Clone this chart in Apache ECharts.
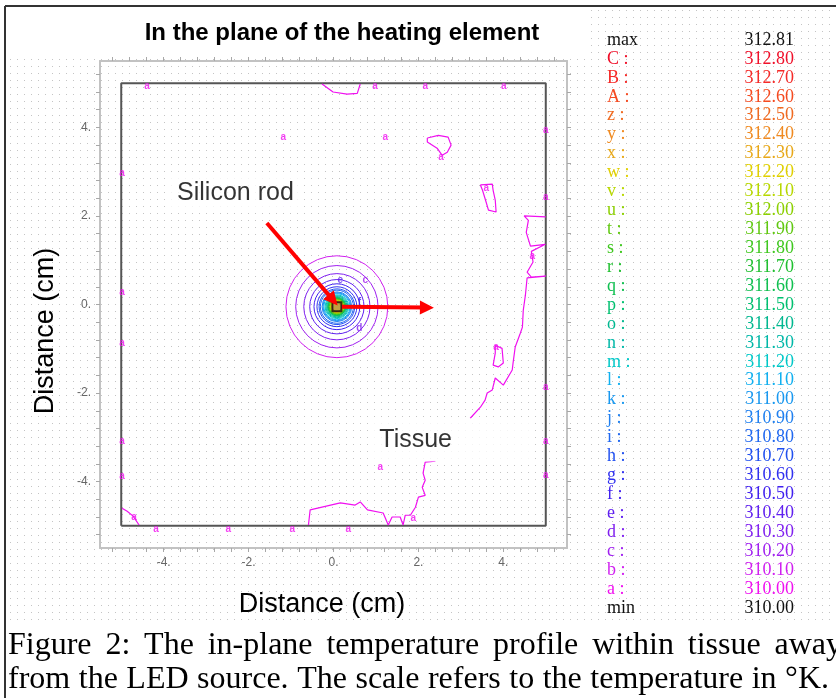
<!DOCTYPE html>
<html>
<head>
<meta charset="utf-8">
<script src="https://cdn.jsdelivr.net/npm/echarts@6/dist/echarts.min.js"></script>
<style>
  html, body { margin: 0; padding: 0; background: #fff; }
  #main { width: 836px; height: 698px; }
</style>
</head>
<body>
<div id="main"></div>
<script>
const chart = echarts.init(document.getElementById('main'))

// temperature scale (K), legend order top to bottom
const levelKeys = ['C', 'B', 'A', 'z', 'y', 'x', 'w', 'v', 'u', 't', 's', 'r', 'q', 'p', 'o', 'n', 'm', 'l', 'k', 'j', 'i', 'h', 'g', 'f', 'e', 'd', 'c', 'b', 'a']
const levelTemps = [312.80, 312.70, 312.60, 312.50, 312.40, 312.30, 312.20, 312.10, 312.00, 311.90, 311.80, 311.70, 311.60, 311.50, 311.40, 311.30, 311.20, 311.10, 311.00, 310.90, 310.80, 310.70, 310.60, 310.50, 310.40, 310.30, 310.20, 310.10, 310.00]
const levelColors = ['#f0102a', '#f52a28', '#f54a20', '#f06a20', '#f08a20', '#e8a818', '#e0d000', '#b8d800', '#8cd000', '#60c810', '#40c820', '#20c030', '#10c050', '#00c070', '#00b890', '#00b8a8', '#00c8c8', '#10b0f0', '#1898f0', '#2080f0', '#2068f0', '#2050f0', '#3030f0', '#4020f0', '#6020f0', '#8020f0', '#a020f0', '#d020f0', '#f010f0']
const tempMax = 312.81
const tempMin = 310.00

// closed contours round the rod (cm), C ... b, same order as levelKeys
const rodCenter = [0.08, -0.05]
const ringRadii = [0.113, 0.118, 0.122, 0.13, 0.137, 0.14, 0.15, 0.158, 0.165, 0.18, 0.19, 0.20, 0.21, 0.22, 0.24, 0.26, 0.28, 0.31, 0.33, 0.35, 0.39, 0.42, 0.47, 0.54, 0.64, 0.78, 0.97, 1.20]

// the 310.00 (a) contour pieces, [x, y] in cm
const contourA = [
  [[-0.27, 4.98], [-0.01, 4.80], [0.32, 4.75], [0.56, 4.77], [0.63, 4.98]],
  [[2.21, 3.76], [2.47, 3.82], [2.70, 3.78], [2.77, 3.60], [2.68, 3.44], [2.56, 3.37], [2.44, 3.53], [2.21, 3.67], [2.21, 3.76]],
  [[3.46, 2.70], [3.74, 2.72], [3.76, 2.58], [3.81, 2.36], [3.83, 2.09], [3.65, 2.13], [3.58, 2.36], [3.51, 2.58], [3.46, 2.70]],
  [[5.00, 1.98], [4.49, 2.00], [4.59, 1.90], [4.54, 1.63], [4.64, 1.32], [4.99, 1.36], [4.66, 1.20], [4.70, 0.96], [4.56, 0.73], [4.66, 0.62], [5.00, 0.64], [4.56, 0.60], [4.52, 0.21], [4.47, -0.13], [4.45, -0.51], [4.40, -0.65], [4.28, -0.96], [4.23, -1.32], [4.21, -1.48], [4.00, -1.82], [3.81, -1.66], [3.74, -1.93], [3.62, -2.00], [3.57, -2.16], [3.46, -2.32], [3.22, -2.57]],
  [[3.81, -0.92], [3.97, -0.99], [4.00, -1.32], [3.88, -1.41], [3.76, -1.37], [3.81, -1.10], [3.81, -0.92]],
  [[2.40, -3.54], [2.16, -3.56], [2.11, -3.81], [2.16, -3.97], [2.09, -4.13], [2.16, -4.31], [2.00, -4.35], [1.93, -4.58], [1.81, -4.76], [1.69, -4.76], [1.64, -4.98], [1.57, -4.80], [1.38, -4.80], [1.29, -4.98], [1.17, -4.71], [0.80, -4.64], [0.63, -4.46], [0.51, -4.53], [0.16, -4.48], [-0.55, -4.64], [-0.59, -4.98]],
  [[-4.98, -4.60], [-4.86, -4.67], [-4.72, -4.78], [-4.58, -4.98]]
]

// contour letters [x, y, key]
const contourLabels = [
  [-4.39, 4.93, 'a'], [0.98, 4.93, 'a'], [2.16, 4.93, 'a'], [4.01, 4.93, 'a'], [-1.18, 3.78, 'a'], [1.22, 3.78, 'a'],
  [2.53, 3.33, 'a'], [5.0, 3.94, 'a'], [-4.98, 2.97, 'a'], [3.60, 2.62, 'a'], [5.0, 2.42, 'a'], [4.68, 1.09, 'a'],
  [-4.98, 0.28, 'a'], [-4.98, -0.87, 'a'], [3.83, -0.96, 'a'], [5.0, -1.87, 'a'], [-4.98, -3.10, 'a'], [5.0, -3.09, 'a'],
  [1.10, -3.67, 'a'], [-4.98, -3.88, 'a'], [5.0, -3.85, 'a'], [-4.70, -4.80, 'a'], [-4.18, -5.07, 'a'], [-2.48, -5.07, 'a'],
  [-0.97, -5.07, 'a'], [0.35, -5.07, 'a'], [1.88, -4.82, 'a'],
  [0.75, 0.55, 'c'], [0.61, -0.54, 'd'], [0.16, 0.55, 'e'], [0.61, 0.04, 'f']
]

// arrows and notes
const arrows = [
  [[-1.57, 1.84], [-0.01, 0.10]],
  [[0.20, -0.05], [2.20, -0.07]]
]
const notes = [
  [-2.31, 2.52, 'Silicon rod'],
  [2.76, -3.06, 'Tissue']
]

const plotDomain = [-5, 5]
const axisRange = [-5.5, 5.5]
const majorTicks = [-4, -2, 0, 2, 4]
const minorTicks = [-5.2, -4.8, -4.4, -4.0, -3.6, -3.2, -2.8, -2.4, -2.0, -1.6, -1.2, -0.8, -0.4, 0, 0.4, 0.8, 1.2, 1.6, 2.0, 2.4, 2.8, 3.2, 3.6, 4.0, 4.4, 4.8, 5.2]

const captionLines = [
  'Figure 2: The in-plane temperature profile within tissue away',
  'from the LED source. The scale refers to the temperature in °K.'
]

// dotted paper
const dot = document.createElement('canvas')
dot.width = 7
dot.height = 7
const dctx = dot.getContext('2d')
dctx.fillStyle = '#c4c4c4'
dctx.fillRect(3, 3, 1, 1)

const colorOf = k => levelColors[levelKeys.indexOf(k)]

const frameAxis = (pos, labels) => ({
  type: 'value',
  position: pos,
  min: axisRange[0],
  max: axisRange[1],
  splitLine: { show: false },
  axisLine: { show: true, onZero: false, lineStyle: { color: '#c2c2c2', width: 2 } },
  axisTick: { show: true, customValues: minorTicks, length: 4, lineStyle: { color: '#a8a8a8' } },
  axisLabel: labels ? {
    show: true,
    customValues: majorTicks,
    formatter: v => v + '.',
    color: '#666',
    fontSize: 12,
    fontFamily: 'Liberation Sans',
    margin: 9
  } : { show: false }
})

// legend table on the right
const legendRows = [['max', tempMax.toFixed(2), '#111']]
  .concat(levelKeys.map((k, i) => [k + ' :', levelTemps[i].toFixed(2), levelColors[i]]))
  .concat([['min', tempMin.toFixed(2), '#111']])
const legendEls = []
legendRows.forEach((r, i) => {
  const y = 40 + i * 18.93
  legendEls.push({ type: 'text', x: 607, y, style: { text: r[0], fill: r[2], font: '18px "Liberation Serif"', verticalAlign: 'middle' } })
  legendEls.push({ type: 'text', x: 794, y, style: { text: r[1], fill: r[2], font: '18px "Liberation Serif"', align: 'right', verticalAlign: 'middle' } })
})

// justified caption
const mctx = document.createElement('canvas').getContext('2d')
function justify(line, x0, x1, y, font) {
  mctx.font = font
  const words = line.split(' ').filter(w => w)
  const widths = words.map(w => mctx.measureText(w).width)
  const gap = (x1 - x0 - widths.reduce((s, w) => s + w, 0)) / (words.length - 1)
  let x = x0
  return words.map((w, i) => {
    const el = { type: 'text', x, y, style: { text: w, font, fill: '#000', verticalAlign: 'middle' } }
    x += widths[i] + gap
    return el
  })
}
const capFont = '32px "Liberation Serif"'
const captionEls = justify(captionLines[0], 8, 842, 646, capFont).concat(justify(captionLines[1], 8, 829, 680, capFont))

const domainBox = [
  [plotDomain[0], plotDomain[0]], [plotDomain[1], plotDomain[0]], [plotDomain[1], plotDomain[1]],
  [plotDomain[0], plotDomain[1]], [plotDomain[0], plotDomain[0]]
]

const option = {
  animation: false,
  backgroundColor: { image: dot, repeat: 'repeat' },
  grid: { left: 100, top: 61, width: 467, height: 487, containLabel: false },
  xAxis: [frameAxis('bottom', true), frameAxis('top', false)],
  yAxis: [frameAxis('left', true), frameAxis('right', false)],
  graphic: [
    { type: 'rect', shape: { x: 0, y: 0, width: 585, height: 54 }, style: { fill: '#fff' }, silent: true },
    { type: 'rect', shape: { x: 0, y: 622, width: 836, height: 76 }, style: { fill: '#fff' }, silent: true },
    { type: 'rect', shape: { x: 0, y: 0, width: 5, height: 698 }, style: { fill: '#fff' }, silent: true },
    { type: 'rect', shape: { x: 0, y: 0, width: 836, height: 6 }, style: { fill: '#fff' }, silent: true },
    { type: 'line', shape: { x1: 5, y1: 6, x2: 5, y2: 698 }, style: { stroke: '#333', lineWidth: 2 } },
    { type: 'line', shape: { x1: 5, y1: 6, x2: 836, y2: 6 }, style: { stroke: '#333', lineWidth: 2 } },
    { type: 'text', x: 342, y: 33, style: { text: 'In the plane of the heating element', font: 'bold 24px "Liberation Sans"', fill: '#000', align: 'center', verticalAlign: 'middle' } },
    { type: 'text', x: 322, y: 605, style: { text: 'Distance (cm)', font: '27px "Liberation Sans"', fill: '#000', align: 'center', verticalAlign: 'middle' } },
    { type: 'text', x: 46, y: 331, rotation: Math.PI / 2, style: { text: 'Distance (cm)', font: '27px "Liberation Sans"', fill: '#000', align: 'center', verticalAlign: 'middle' } }
  ].concat(legendEls, captionEls),
  series: [
    {
      name: 'domain',
      type: 'line',
      data: domainBox,
      symbol: 'none',
      lineStyle: { color: '#555', width: 2 },
      z: 3
    },
    ...contourA.map(seg => ({
      name: 'a',
      type: 'line',
      data: seg,
      symbol: 'none',
      lineStyle: { color: colorOf('a'), width: 1.2 }
    })),
    {
      name: 'rings',
      type: 'custom',
      data: ringRadii.map(r => [rodCenter[0], rodCenter[1], r]),
      renderItem: (params, api) => {
        const c = api.coord([api.value(0), api.value(1)])
        const r = api.size([api.value(2), 0])[0]
        return {
          type: 'circle',
          shape: { cx: c[0], cy: c[1], r },
          style: { fill: 'none', stroke: levelColors[params.dataIndex], lineWidth: 1 }
        }
      }
    },
    {
      name: 'rod',
      type: 'scatter',
      data: [rodCenter],
      symbol: 'rect',
      symbolSize: 9,
      itemStyle: { color: '#b08a10', borderColor: '#111', borderWidth: 2 },
      z: 4
    },
    {
      name: 'letters',
      type: 'scatter',
      symbolSize: 0,
      data: contourLabels.map(d => ({
        value: [d[0], d[1]],
        name: d[2],
        label: { color: colorOf(d[2]) }
      })),
      label: { show: true, position: 'inside', formatter: '{b}', fontSize: 10, fontWeight: 'bold', fontFamily: 'Liberation Sans' },
      z: 4
    },
    {
      name: 'arrows',
      type: 'lines',
      coordinateSystem: 'cartesian2d',
      data: arrows.map(a => ({ coords: a })),
      symbol: ['none', 'triangle'],
      symbolSize: 14,
      lineStyle: { color: '#ff0000', width: 4, opacity: 1 },
      z: 5
    },
    {
      name: 'notes',
      type: 'scatter',
      symbolSize: 0,
      data: notes.map(n => ({ value: [n[0], n[1]], name: n[2] })),
      label: {
        show: true,
        position: 'inside',
        formatter: '{b}',
        color: '#000',
        fontSize: 25,
        fontFamily: 'Liberation Sans',
        backgroundColor: '#fff'
      },
      z: 6
    }
  ]
}
// white box of the Tissue note reaches further right than the word
option.series[option.series.length - 1].data[0].label = { padding: [6, 8, 6, 8] }
option.series[option.series.length - 1].data[1].label = { padding: [9, 78, 9, 8] }

chart.setOption(option)
</script>
</body>
</html>
